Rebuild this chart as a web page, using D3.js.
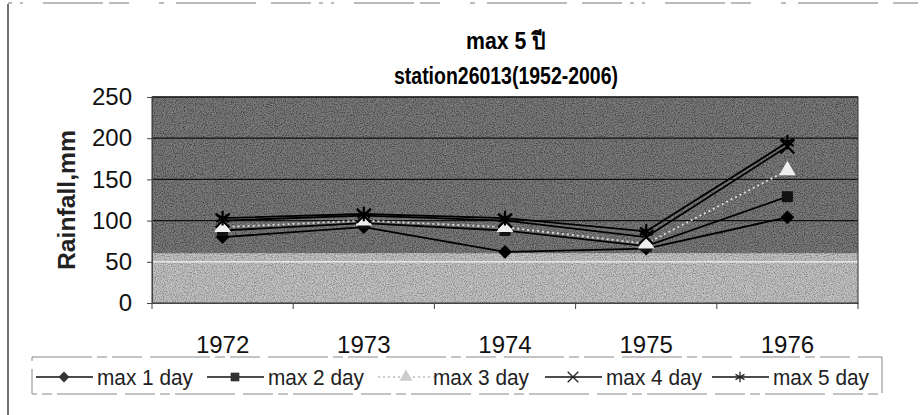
<!DOCTYPE html>
<html><head><meta charset="utf-8">
<script src="https://cdn.jsdelivr.net/npm/d3@7"></script>
<style>
html,body{margin:0;padding:0;background:#fff;}
svg{display:block;font-family:"Liberation Sans",Arial,sans-serif;}
</style></head>
<body><svg id="c" width="923" height="415"></svg>
<script>
const years = ["1972","1973","1974","1975","1976"];
const max1 = [80, 92, 62, 66, 104];
const max2 = [88, 97, 88, 69, 129];
const max3 = [92, 100, 92, 72, 161];
const max4 = [100, 106, 100, 80, 190];
const max5 = [103, 108, 103, 87, 195];
const yTicks = [0, 50, 100, 150, 200, 250];
const seriesNames = ["max 1 day","max 2 day","max 3 day","max 4 day","max 5 day"];
const titleText = "max 5 ปี";
const subtitleText = "station26013(1952-2006)";
const yLabel = "Rainfall,mm";

const svg = d3.select("#c");
const M = {l:152, r:858, t:97, b:303};
const x = d3.scaleBand().domain(years).range([M.l, M.r]);
const y = d3.scaleLinear().domain([0,250]).range([M.b, M.t]);

// outer frame traces
svg.append("line").attr("x1",8).attr("x2",8).attr("y1",4).attr("y2",415).attr("stroke","#444").attr("stroke-width",1.5);
svg.append("line").attr("x1",8).attr("x2",918).attr("y1",3).attr("y2",3).attr("stroke","#777")
  .attr("stroke-dasharray","4 8 3 20 60 6 20 30 5 12 80 15 40 8").attr("stroke-width",1.2);

// noise filter
const defs = svg.append("defs");
const f = defs.append("filter").attr("id","noise").attr("x",0).attr("y",0).attr("width","100%").attr("height","100%");
f.append("feTurbulence").attr("type","fractalNoise").attr("baseFrequency",0.9).attr("numOctaves",2).attr("seed",3).attr("result","t");
f.append("feColorMatrix").attr("in","t").attr("type","matrix")
 .attr("values","0 0 0 0 0  0 0 0 0 0  0 0 0 0 0  0 0 0 -2.2 1.35").attr("result","n");
f.append("feComposite").attr("in","n").attr("in2","SourceGraphic").attr("operator","in");

// plot background (dark upper / light lower band as in scan)
const split = y(60);
svg.append("rect").attr("x",M.l).attr("y",M.t).attr("width",M.r-M.l).attr("height",split-M.t).attr("fill","#7c7c7c");
svg.append("rect").attr("x",M.l).attr("y",split).attr("width",M.r-M.l).attr("height",M.b-split).attr("fill","#c4c4c4");
svg.append("rect").attr("x",M.l).attr("y",M.t).attr("width",M.r-M.l).attr("height",split-M.t).attr("fill","#000").attr("opacity",0.5).attr("filter","url(#noise)");
svg.append("rect").attr("x",M.l).attr("y",split).attr("width",M.r-M.l).attr("height",M.b-split).attr("fill","#555").attr("opacity",0.35).attr("filter","url(#noise)");

// gridlines
yTicks.filter(v=>v>0).forEach(v=>{
  svg.append("line").attr("x1",M.l).attr("x2",M.r).attr("y1",y(v)).attr("y2",y(v))
    .attr("stroke", v===50 ? "#f4f4f4" : "#111").attr("stroke-width",1.3);
});
svg.append("rect").attr("x",M.l).attr("y",M.t).attr("width",M.r-M.l).attr("height",M.b-M.t)
  .attr("fill","none").attr("stroke","#333").attr("stroke-width",1);

// axes
const ya = d3.axisLeft(y).tickValues(yTicks).tickSize(5).tickPadding(15);
const yg = svg.append("g").attr("transform",`translate(${M.l},0)`).call(ya);
yg.selectAll("text").attr("font-size",24).attr("fill","#111");
yg.select(".domain").attr("stroke","#444");
yg.selectAll("line").attr("stroke","#444");

const xa = d3.axisBottom(x).tickSize(0).tickPadding(40);
const xg = svg.append("g").attr("transform",`translate(0,${M.b})`).call(xa);
xg.selectAll("text").attr("font-size",24).attr("fill","#111").attr("dy","0.4em");
xg.select(".domain").attr("stroke","#444");
const bounds = years.map(d=>x(d)).concat([x(years[years.length-1])+x.bandwidth()]);
xg.selectAll(".btick").data(bounds).enter().append("line").attr("class","btick")
  .attr("x1",d=>d).attr("x2",d=>d).attr("y1",0).attr("y2",6).attr("stroke","#444");

// titles
svg.append("text").attr("x",506).attr("y",49).attr("text-anchor","middle").attr("font-size",23).attr("font-weight","bold")
  .attr("textLength",80).attr("lengthAdjust","spacingAndGlyphs").text(titleText);
svg.append("text").attr("x",506).attr("y",84).attr("text-anchor","middle").attr("font-size",23).attr("font-weight","bold")
  .attr("textLength",224).attr("lengthAdjust","spacingAndGlyphs").text(subtitleText);
svg.append("text").attr("transform","translate(75,200) rotate(-90)").attr("text-anchor","middle").attr("font-size",24).attr("font-weight","bold").attr("fill","#222")
  .attr("textLength",140).attr("lengthAdjust","spacingAndGlyphs").text(yLabel);

// series
const cx = d => x(d) + x.bandwidth()/2;
const data = [max1,max2,max3,max4,max5];
const styles = [
  {stroke:"#000", dash:null, sym:d3.symbolDiamond2, fill:"#000", size:120},
  {stroke:"#000", dash:null, sym:d3.symbolSquare, fill:"#111", size:120},
  {stroke:"#ddd", dash:"2 3", sym:d3.symbolTriangle, fill:"#eee", size:120},
  {stroke:"#000", dash:null, sym:d3.symbolTimes, fill:"none", size:130},
  {stroke:"#000", dash:null, sym:d3.symbolAsterisk, fill:"none", size:150}
];
const line = d3.line().x((v,i)=>cx(years[i])).y(v=>y(v));
data.forEach((s,k)=>{
  const st = styles[k];
  svg.append("path").attr("d",line(s)).attr("fill","none").attr("stroke",st.stroke).attr("stroke-width",1.8)
    .attr("stroke-dasharray",st.dash);
});
data.forEach((s,k)=>{
  const st = styles[k];
  const sym = d3.symbol().type(st.sym).size(st.size);
  svg.selectAll(null).data(s).enter().append("path")
    .attr("transform",(v,i)=>`translate(${cx(years[i])},${y(v)})`)
    .attr("d",sym)
    .attr("fill", st.fill==="none"?"none":st.fill)
    .attr("stroke", st.fill==="none"? "#000" : "none").attr("stroke-width",2.2);
});

// legend
svg.append("rect").attr("x",32).attr("y",357).attr("width",850).attr("height",37).attr("fill","#fff")
  .attr("stroke","#888").attr("stroke-width",1).attr("stroke-dasharray","60 5 10 5 30 8");
const lx = [36, 207, 378, 545, 712];
seriesNames.forEach((n,k)=>{
  const st = styles[k];
  const g = svg.append("g").attr("transform",`translate(${lx[k]},377)`);
  g.append("line").attr("x1",0).attr("x2",57).attr("y1",0).attr("y2",0).attr("stroke",k===2?"#bbb":"#111").attr("stroke-width",1.6).attr("stroke-dasharray",st.dash);
  g.append("path").attr("transform","translate(28,0)").attr("d",d3.symbol().type(st.sym).size(75))
    .attr("fill", st.fill==="none"?"none":(k===2?"#ccc":"#333")).attr("stroke", st.fill==="none"?"#222":"none").attr("stroke-width",1.3);
  g.append("text").attr("x",k===2?55:61).attr("y",8).attr("font-size",22).attr("fill","#222")
    .attr("textLength",96).attr("lengthAdjust","spacingAndGlyphs").text(n);
});
</script></body></html>
